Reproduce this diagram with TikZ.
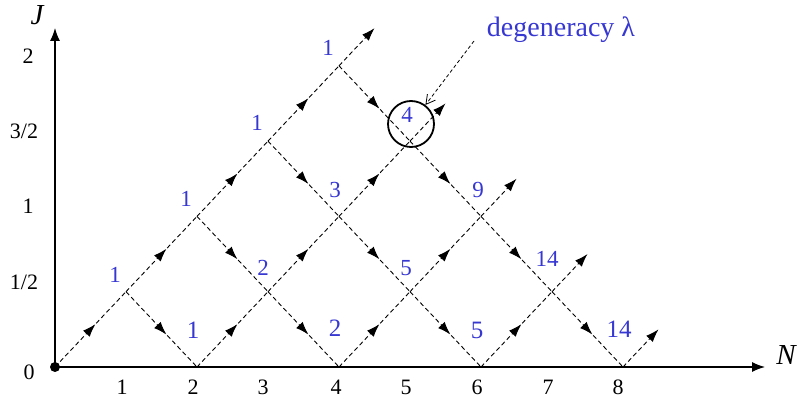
\documentclass[tikz,border=0pt]{standalone}
\usepackage{fontspec}
\setmainfont{Liberation Serif}
\usetikzlibrary{arrows.meta,decorations.markings}
\definecolor{lblue}{RGB}{55,55,210}
\begin{document}
\begin{tikzpicture}[x=1pt,y=1pt,
  seg/.style={dash pattern=on 4.5pt off 3pt, line width=0.9pt, postaction={decorate},
    decoration={markings, mark=at position 0.57 with {\arrow{Latex[length=13pt,width=9pt]}}}},
  tipseg/.style={dash pattern=on 4.5pt off 3pt, line width=0.9pt, -{Latex[length=13pt,width=9pt]}},
  num/.style={text=lblue, font=\fontsize{23}{25}\selectfont, inner sep=0pt},
  bignum/.style={text=lblue, font=\fontsize{25}{27}\selectfont, inner sep=0pt},
  ticklab/.style={font=\fontsize{22}{24}\selectfont, inner sep=0pt},
  axislab/.style={font=\fontsize{29}{32}\selectfont\itshape, inner sep=0pt},
  axisline/.style={line width=1.2pt, -{Latex[length=13pt,width=10pt]}}]
\useasboundingbox (0,0) rectangle (798,399);
% lattice points
\foreach \n in {0,...,8}{\foreach \k in {0,...,4}{\coordinate (v\n\k) at ({55+71*\n},{32+75.3*\k});}}
\coordinate (t1) at ({55+71*4.5},{32+75.3*4.5});
\coordinate (t2) at ({55+71*5.5},{32+75.3*3.5});
\coordinate (t3) at ({55+71*6.5},{32+75.3*2.5});
\coordinate (t4) at ({55+71*7.5},{32+75.3*1.5});
\coordinate (t5) at ({55+71*8.5},{32+75.3*0.5});
% axes
\coordinate (O) at (55,32);
\coordinate (xend) at (765,32);
\coordinate (yend) at (55,371);
\draw[axisline] (O) -- (xend);
\draw[axisline] (O) -- (yend);
\fill (O) circle (5);
% upward lines
\draw[seg] (v00) -- (v11);
\draw[seg] (v11) -- (v22);
\draw[seg] (v22) -- (v33);
\draw[seg] (v33) -- (v44);
\draw[tipseg] (v44) -- (t1);
\draw[seg] (v20) -- (v31);
\draw[seg] (v31) -- (v42);
\draw[seg] (v42) -- (v53);
\draw[tipseg] (v53) -- (t2);
\draw[seg] (v40) -- (v51);
\draw[seg] (v51) -- (v62);
\draw[tipseg] (v62) -- (t3);
\draw[seg] (v60) -- (v71);
\draw[tipseg] (v71) -- (t4);
\draw[tipseg] (v80) -- (t5);
% downward lines
\draw[seg] (v11) -- (v20);
\draw[seg] (v22) -- (v31);
\draw[seg] (v31) -- (v40);
\draw[seg] (v33) -- (v42);
\draw[seg] (v42) -- (v51);
\draw[seg] (v51) -- (v60);
\draw[seg] (v44) -- (v53);
\draw[seg] (v53) -- (v62);
\draw[seg] (v62) -- (v71);
\draw[seg] (v71) -- (v80);
% degeneracy numbers
\node[num] (l11) at (115,124) {1};
\node[num] (l22) at (186,200) {1};
\node[num] (l33) at (257,276) {1};
\node[num] (l44) at (328,351) {1};
\node[bignum] (l20) at (193,69) {1};
\node[num] (l31) at (263,131) {2};
\node[bignum] (l40) at (335,71) {2};
\node[num] (l42) at (335,209) {3};
\node[num] (l51) at (406,131) {5};
\node[num] (l53) at (407,284) {4};
\node[bignum] (l60) at (477,69) {5};
\node[num] (l62) at (478,209) {9};
\node[num] (l71) at (547,140) {14};
\node[bignum] (l80) at (619,70) {14};
% circle and pointer
\node[circle, draw, line width=1.8pt, minimum size=46pt, inner sep=0pt] (ring) at (411,275) {};
\node[text=lblue, font=\fontsize{28}{30}\selectfont, inner sep=0pt, anchor=base] (deg) at (561,362) {degeneracy λ};
\coordinate (ptr) at (474,358);
\draw[dash pattern=on 3.5pt off 2.5pt, line width=0.8pt, -{Straight Barb[length=9pt,width=10pt]}] (ptr) -- (ring);
% tick labels
\node[ticklab] (n1) at (122,12) {1};
\node[ticklab] (n2) at (193,12) {2};
\node[ticklab] (n3) at (263,12) {3};
\node[ticklab] (n4) at (336,12) {4};
\node[ticklab] (n5) at (406,12) {5};
\node[ticklab] (n6) at (477,12) {6};
\node[ticklab] (n7) at (548,12) {7};
\node[ticklab] (n8) at (618,12) {8};
\node[ticklab] (j0) at (29,27) {0};
\node[ticklab] (j1) at (24,117) {1/2};
\node[ticklab] (j2) at (28,193) {1};
\node[ticklab] (j3) at (24,268) {3/2};
\node[ticklab] (j4) at (28,343) {2};
\node[axislab] (Jlab) at (37,384) {J};
\node[axislab] (Nlab) at (786,44) {N};
\end{tikzpicture}
\end{document}
